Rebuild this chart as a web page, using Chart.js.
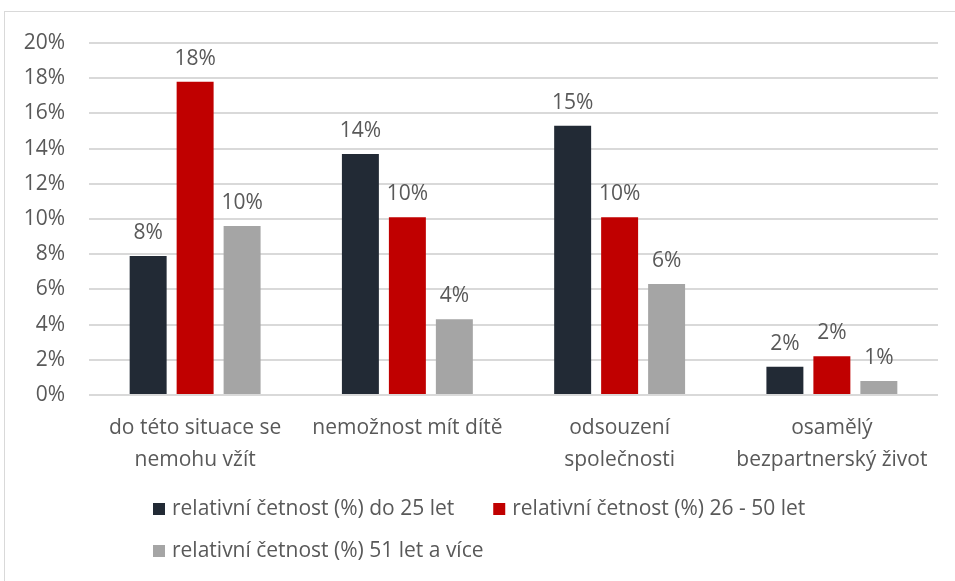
<!DOCTYPE html>
<html><head><meta charset="utf-8">
<script src="https://cdn.jsdelivr.net/npm/chart.js@4/dist/chart.umd.min.js"></script>
<style>html,body{margin:0;padding:0;background:#fff}#wrap{position:relative;width:955px;height:581px}</style>
</head><body><div id="wrap"><canvas id="c" width="955" height="581"></canvas></div>
<script>
const categories = [["do této situace se","nemohu vžít"],"nemožnost mít dítě",["odsouzení","společnosti"],["osamělý","bezpartnerský život"]];
const seriesNames = ["relativní četnost (%) do 25 let","relativní četnost (%) 26 - 50 let","relativní četnost (%) 51 let a více"];
const under25 = [7.9, 13.7, 15.3, 1.6];
const age26to50 = [17.8, 10.1, 10.1, 2.2];
const over51 = [9.6, 4.3, 6.3, 0.8];
const yMax = 20;
const yStep = 2;
const colors = ['#222a35','#c00000','#a5a5a5'];

const FONT = "'Open Sans', sans-serif";
const TXT = '#595959';
Chart.defaults.font.family = FONT;
Chart.defaults.font.size = 21;
Chart.defaults.color = TXT;

const bgPlugin = {
  id: 'bg',
  beforeDraw(chart) {
    const ctx = chart.ctx;
    ctx.save();
    ctx.fillStyle = '#fff';
    ctx.fillRect(0, 0, chart.width, chart.height);
    ctx.strokeStyle = '#d9d9d9';
    ctx.lineWidth = 1;
    ctx.strokeRect(4.5, 11.5, 1200, 1200);
    ctx.restore();
  }
};

const labelPlugin = {
  id: 'vals',
  afterDatasetsDraw(chart) {
    const ctx = chart.ctx;
    ctx.save();
    ctx.font = '21px ' + FONT;
    ctx.fillStyle = TXT;
    ctx.textAlign = 'center';
    ctx.textBaseline = 'middle';
    chart.data.datasets.forEach((ds, i) => {
      chart.getDatasetMeta(i).data.forEach((el, j) => {
        ctx.fillText(Math.round(ds.data[j]) + '%', el.x, el.y - 23);
      });
    });
    ctx.restore();
  }
};

const legendPlugin = {
  id: 'lg',
  afterDraw(chart) {
    const ctx = chart.ctx;
    ctx.save();
    ctx.font = '21px ' + FONT;
    ctx.textBaseline = 'middle';
    ctx.textAlign = 'left';
    const rows = [[0, 1], [2]];
    const rowY = [509, 551];
    rows.forEach((row, r) => {
      let x = 153;
      row.forEach(i => {
        const ds = chart.data.datasets[i];
        ctx.fillStyle = ds.backgroundColor;
        ctx.fillRect(x, rowY[r] - 6, 12, 12);
        ctx.fillStyle = TXT;
        ctx.fillText(ds.label, x + 19, rowY[r]);
        x += 19 + ctx.measureText(ds.label).width + 39;
      });
    });
    ctx.restore();
  }
};

new Chart(document.getElementById('c'), {
  type: 'bar',
  data: {
    labels: categories,
    datasets: [
      { label: seriesNames[0], data: under25, backgroundColor: colors[0] },
      { label: seriesNames[1], data: age26to50, backgroundColor: colors[1] },
      { label: seriesNames[2], data: over51, backgroundColor: colors[2] }
    ]
  },
  options: {
    responsive: false,
    animation: false,
    devicePixelRatio: 1,
    categoryPercentage: 0.664,
    barPercentage: 0.787,
    layout: { padding: { left: 0, right: 17, top: 43, bottom: 0 } },
    plugins: { legend: { display: false }, tooltip: { enabled: false } },
    scales: {
      x: {
        grid: { display: false, drawTicks: false },
        border: { display: false },
        ticks: { color: TXT, padding: 17, font: { size: 21, lineHeight: 32/21 }, maxRotation: 0, autoSkip: false },
        afterFit(s) { s.height = 581 - 395; }
      },
      y: {
        min: 0, max: yMax,
        grid: { color: '#d9d9d9', lineWidth: 2, drawTicks: false },
        border: { display: false },
        ticks: { stepSize: yStep, padding: 24, color: TXT, callback: v => v + '%' },
        afterFit(s) { s.width = 89; }
      }
    }
  },
  plugins: [bgPlugin, labelPlugin, legendPlugin]
});
</script></body></html>
